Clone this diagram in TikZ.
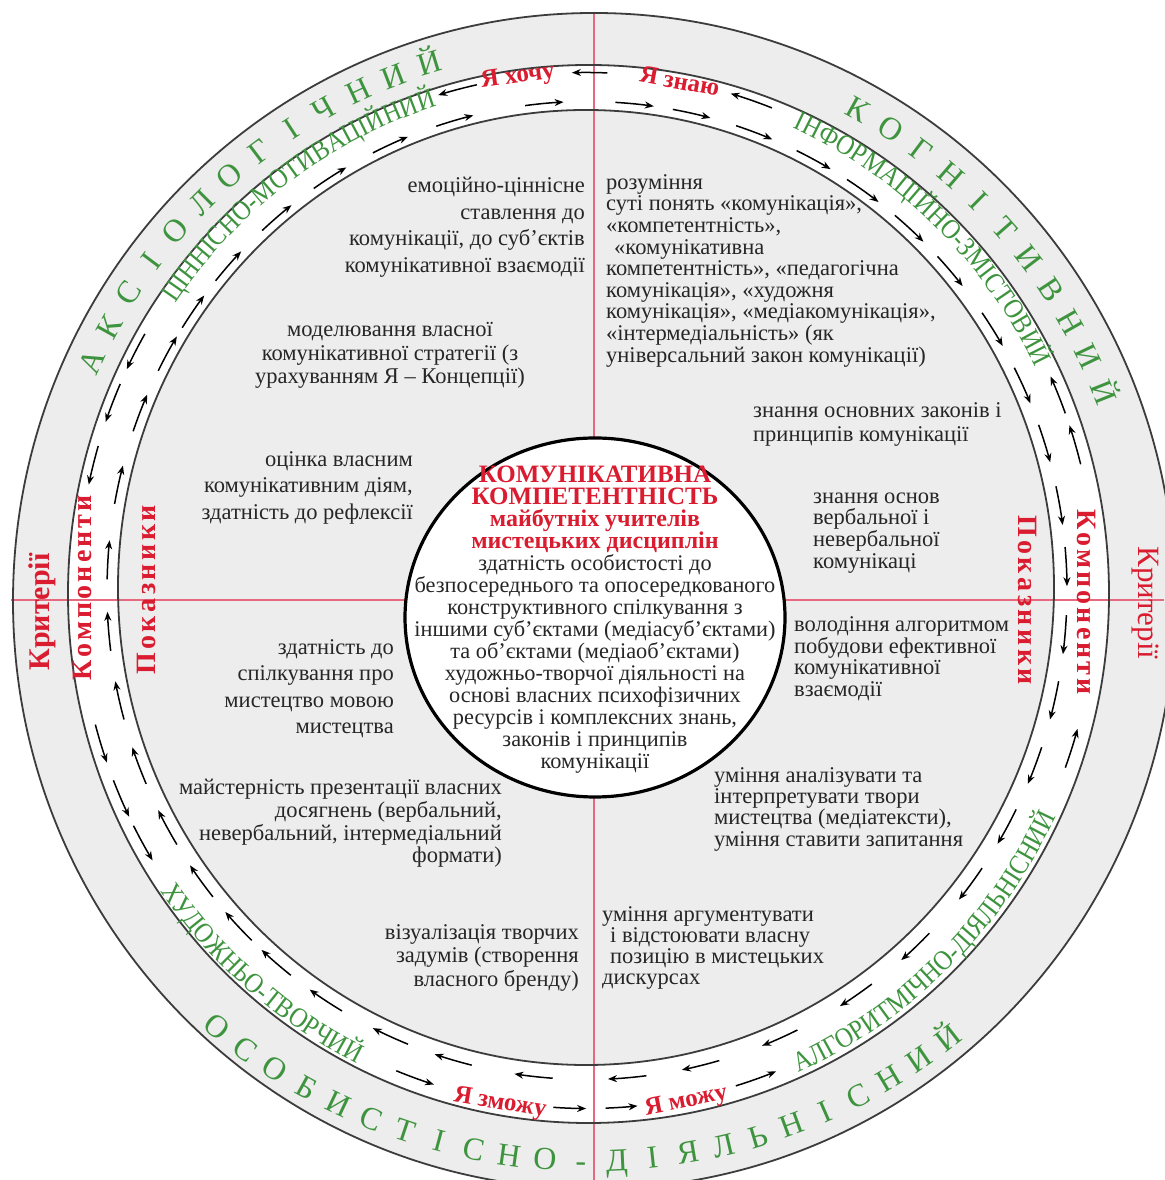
\documentclass[tikz,border=0pt]{standalone}
\usepackage{fontspec}
\setmainfont{Liberation Serif}
\newfontfamily\lanefam[FakeStretch=0.88]{Liberation Serif}
\usetikzlibrary{arrows.meta,decorations.text}
\definecolor{bandgrey}{RGB}{237,237,237}
\definecolor{ringline}{RGB}{60,60,60}
\definecolor{lgreen}{RGB}{62,148,62}
\definecolor{lred}{RGB}{218,28,48}
\definecolor{axisred}{RGB}{230,105,128}
\definecolor{bodytext}{RGB}{38,38,38}
\newcommand\lsp{\kern3pt}
\newcommand\lspb{\kern3.5pt}
\newcommand\hdA{\color{lred}\bfseries\fontsize{25}{22}\selectfont}
\newcommand\hdB{\color{lred}\bfseries\fontsize{24}{22}\selectfont}
\newcommand\lanefont{\lanefam\fontsize{28}{28}\selectfont}
\begin{document}
\begin{tikzpicture}[x=1pt,y=1pt,
  ring/.style={draw=ringline,line width=1.8pt},
  axis/.style={draw=axisred,line width=1.8pt},
  flow/.style={draw=black,line width=1.5pt,-{Stealth[length=9pt,width=7pt]}},
  body/.style={text=bodytext,inner sep=0pt,font=\fontsize{22.5}{#1}\selectfont},
  body/.default=22,
  outerletter/.style={text=lgreen,inner sep=0pt,font=\fontsize{32}{32}\selectfont},
  yalabel/.style={text=lred,inner sep=0pt,font=\bfseries\fontsize{25}{25}\selectfont},
  sidelabel/.style={text=lred,inner sep=0pt,font=\bfseries\fontsize{#1}{#1}\selectfont},
  sidethin/.style={text=lred,inner sep=0pt,font=\fontsize{#1}{#1}\selectfont},
  lanetext/.style={decorate,decoration={text along path,text align=center,text color=lgreen,text={|\lanefont|#1}}}
]
\useasboundingbox (0,0) rectangle (1164,1180);
\fill[white] (0,0) rectangle (1164,1180);

% bands
\fill[bandgrey] (594,579) ellipse[x radius=581,y radius=588];
\fill[white] (588.5,586) ellipse[x radius=520.5,y radius=529];
\fill[bandgrey] (586,592.5) ellipse[x radius=468,y radius=477.5];

% axes
\coordinate (vtop) at (594,1167);
\coordinate (vbot) at (594,0);
\coordinate (hleft) at (11,580);
\coordinate (hright) at (1164,580);
\draw[axis] (vtop) -- (vbot);
\draw[axis] (hleft) -- (hright);

% ring outlines
\draw[ring] (594,579) ellipse[x radius=581,y radius=588];
\draw[ring] (588.5,586) ellipse[x radius=520.5,y radius=529];
\draw[ring] (586,592.5) ellipse[x radius=468,y radius=477.5];

% inner lane arrows (clockwise)
\foreach \t in {151,145.2,138.4,130.3,122.4,114.2,106,95.1,84.3,77.4,69.6,61.8,54.9,47.8,40.8,32.3,24.8,17.5,10,2.8,-5.2,-13,-21,-28.9,-36.9,-46.8,-55.9,-66.3,-76.3,-85.2,-96.4,-106.2,-114.2,-123,-130.4,-136.6,-143.5,-151,-159,-167,-175.2,176.4,167.5,158.7}{
  \draw[flow] ({587+480*cos(\t+2.3)},{589.5+489*sin(\t+2.3)}) arc[start angle=\t+2.3,end angle=\t-2.3,x radius=480,y radius=489];
}
% outer lane arrows (counter-clockwise)
\foreach \a/\b in {87.7/91.7,102.5/107,150.3/154.7,156.5/161,163.8/168.2,195/199.4,201.5/205.9,207/211.4,248/252.5,266.2/269.9,272.1/275.7,287/291.8,340/344.5,14.1/18.6,20/24.4,68.7/73.6}{
  \draw[flow] ({587+509*cos(\a)},{589.5+518*sin(\a)}) arc[start angle=\a,end angle=\b,x radius=509,y radius=518];
}

% lane labels
\path[lanetext={ЦІННІСНО-МОТИВАЦІЙНИЙ}] ({587+499*cos(156.5)},{589.5+508*sin(156.5)}) arc[start angle=156.5,end angle=96.5,x radius=499,y radius=508];
\path[lanetext={ІНФОРМАЦІЙНО-ЗМІСТОВИЙ}] ({587+499*cos(75.9)},{589.5+508*sin(75.9)}) arc[start angle=75.9,end angle=15.9,x radius=499,y radius=508];
\path[lanetext={ХУДОЖНЬО-ТВОРЧИЙ}] ({587+519*cos(199.3)},{589.5+528*sin(199.3)}) arc[start angle=199.3,end angle=259.3,x radius=519,y radius=528];
\path[lanetext={АЛГОРИТМІЧНО-ДІЯЛЬНІСНИЙ}] ({587+519*cos(284)},{589.5+528*sin(284)}) arc[start angle=284,end angle=344.5,x radius=519,y radius=528];

% red "Я" labels
\node[yalabel,rotate=7.8] (yahochu) at ({587+509*cos(97.8)},{589.5+518*sin(97.8)}) {Я хочу};
\node[yalabel,rotate=-10.5] (yaznayu) at ({587+509*cos(79.5)},{589.5+518*sin(79.5)}) {Я знаю};
\node[yalabel,rotate=-9.5] (yazmozhu) at ({587+511*cos(260.2)},{589.5+521*sin(260.2)}) {Я зможу};
\node[yalabel,rotate=11.2] (yamozhu) at ({587+511*cos(281.2)},{589.5+521*sin(281.2)}) {Я можу};

% outer band spaced words
\foreach \ch [count=\i from 0] in {А,К,С,І,О,Л,О,Г,І,Ч,Н,И,Й}{
  \pgfmathsetmacro\ang{155-4*\i}
  \pgfmathsetmacro\rot{\ang-90}
  \node[outerletter,rotate=\rot,anchor=base] (aks\i) at ({591+540.5*cos(\ang)},{582.5+548*sin(\ang)}) {\ch};
}
\foreach \ch [count=\i from 0] in {К,О,Г,Н,І,Т,И,В,Н,И,Й}{
  \pgfmathsetmacro\ang{61-3.94*\i}
  \pgfmathsetmacro\rot{\ang-90}
  \node[outerletter,rotate=\rot,anchor=base] (kog\i) at ({591+540.5*cos(\ang)},{582.5+548*sin(\ang)}) {\ch};
}
\foreach \ch [count=\i from 0] in {О,С,О,Б,И,С,Т,І,С,Н,О,-,Д,І,Я,Л,Ь,Н,І,С,Н,И,Й}{
  \pgfmathsetmacro\ang{230.5+3.51*\i}
  \pgfmathsetmacro\rot{\ang+90}
  \node[outerletter,rotate=\rot,anchor=base] (oso\i) at ({590+596.5*cos(\ang)},{605+596.5*sin(\ang)}) {\ch};
}

% side labels
\node[sidelabel=30,rotate=90] (krytL) at (42,568) {Критерії};
\node[sidelabel=28,rotate=90] (kompL) at (82,592) {К\lsp о\lsp м\lsp п\lsp о\lsp н\lsp е\lsp н\lsp т\lsp и};
\node[sidelabel=28,rotate=90] (pokL) at (146,590) {П\lspb о\lspb к\lspb а\lspb з\lspb н\lspb и\lspb к\lspb и};
\node[sidethin=31,rotate=-90] (krytR) at (1145,577) {Критерії};
\node[sidelabel=28,rotate=-90] (kompR) at (1087,578) {К\lsp о\lsp м\lsp п\lsp о\lsp н\lsp е\lsp н\lsp т\lsp и};
\node[sidelabel=28,rotate=-90] (pokR) at (1028,580) {П\lspb о\lspb к\lspb а\lspb з\lspb н\lspb и\lspb к\lspb и};

% body texts, left half
\node[body=26.5,align=right,anchor=north east] (t1) at (585,1002.7) {емоційно-ціннісне\\ставлення до\\комунікації, до суб’єктів\\комунікативної взаємодії};
\node[body=23.5,align=center,anchor=north] (t2) at (390,857.7) {моделювання власної\\комунікативної стратегії (з\\урахуванням Я – Концепції)};
\node[body=26.5,align=right,anchor=north east] (t3) at (413,728.7) {оцінка власним\\комунікативним діям,\\здатність до рефлексії};
\node[body=26.5,align=right,anchor=north east] (t4) at (394,540.7) {здатність до\\спілкування про\\мистецтво мовою\\мистецтва};
\node[body=22.7,align=right,anchor=north east] (t5) at (502,400.7) {майстерність презентації власних\\досягнень (вербальний,\\невербальний, інтермедіальний\\формати)};
\node[body=23.5,align=right,anchor=north east] (t6) at (579,255.7) {візуалізація творчих\\задумів (створення\\власного бренду)};

% body texts, right half
\node[body=21.6,align=left,anchor=north west] (t7) at (606,1005.7) {розуміння\\суті понять «комунікація»,\\«компетентність»,\\\hspace*{8pt}«комунікативна\\компетентність», «педагогічна\\комунікація», «художня\\комунікація», «медіакомунікація»,\\«інтермедіальність» (як\\універсальний закон комунікації)};
\node[body=24,align=left,anchor=north west] (t8) at (753,777.7) {знання основних законів і\\принципів комунікації};
\node[body=21.7,align=left,anchor=north west] (t9) at (813,687.7) {знання основ\\вербальної і\\невербальної\\комунікаці};
\node[body=21.7,align=left,anchor=north west] (t10) at (794,563.7) {володіння алгоритмом\\побудови ефективної\\комунікативної\\взаємодії};
\node[body=21.3,align=left,anchor=north west] (t11) at (714,412.7) {уміння аналізувати та\\інтерпретувати твори\\мистецтва (медіатексти),\\уміння ставити запитання};
\node[body=21,align=left,anchor=north west] (t12) at (602,273.7) {уміння аргументувати\\\hspace*{8pt}і відстоювати власну\\\hspace*{8pt}позицію в мистецьких\\дискурсах};

% central circle
\draw[fill=white,draw=black,line width=3.2pt] (595,562.5) ellipse[x radius=190,y radius=179.5];
\node[text=bodytext,inner sep=0pt,align=center,anchor=north,font=\fontsize{22.3}{22}\selectfont] (core) at (595,714) {{\hdA КОМУНІКАТИВНА}\\{\hdA КОМПЕТЕНТНІСТЬ}\\{\hdB майбутніх учителів}\\{\hdB мистецьких дисциплін}\\здатність особистості до\\безпосереднього та опосередкованого\\конструктивного спілкування з\\іншими суб’єктами (медіасуб’єктами)\\та об’єктами (медіаоб’єктами)\\художньо-творчої діяльності на\\основі власних психофізичних\\ресурсів і комплексних знань,\\законів і принципів\\комунікації};
\end{tikzpicture}
\end{document}
